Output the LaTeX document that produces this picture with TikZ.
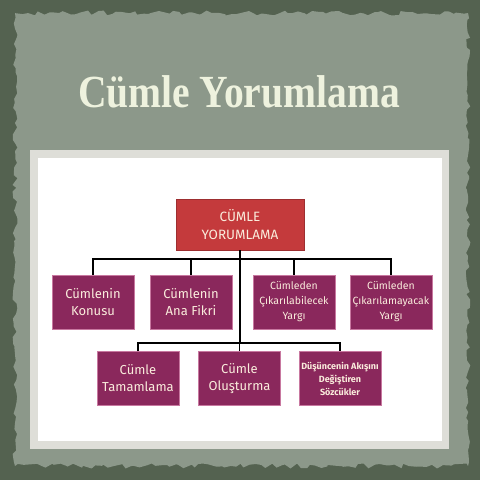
\documentclass[tikz,border=0pt]{standalone}
\usepackage{fontspec}
\setmainfont{Liberation Serif}
\newfontfamily\boxfont{Fira Sans}
\usetikzlibrary{positioning, decorations.pathmorphing}

\definecolor{slateback}{RGB}{84,98,80}
\definecolor{paper}{RGB}{140,152,138}
\definecolor{framegray}{RGB}{222,222,216}
\definecolor{rootred}{RGB}{196,58,60}
\definecolor{plum}{RGB}{138,40,92}
\definecolor{plumedge}{RGB}{200,120,160}
\definecolor{cream}{RGB}{250,236,220}
\definecolor{titlecream}{RGB}{238,242,222}

\begin{document}
\begin{tikzpicture}[x=1pt, y=-1pt,
  topic/.style={draw=plumedge, fill=plum, text=cream, align=center,
    minimum width=82pt, minimum height=54pt, inner sep=1pt,
    font=\boxfont\fontsize{13}{17}\selectfont},
  smalltopic/.style={topic, font=\boxfont\bfseries\fontsize{9}{13}\selectfont},
  rootbox/.style={draw=rootred!80!black, fill=rootred, text=cream, align=center,
    minimum width=128pt, minimum height=51pt,
    font=\boxfont\fontsize{13.5}{18}\selectfont},
  link/.style={line width=1.8pt, black}]

  % background and torn paper
  \fill[slateback] (0,0) rectangle (480,480);
  \pgfmathsetseed{7}
  \fill[paper, decorate, decoration={random steps, segment length=5pt, amplitude=2.5pt}]
    (15,13) rectangle (468,466);
  \fill[framegray] (30,150) rectangle (449,449);
  \fill[white] (38,158) rectangle (442,441);

  % title
  \node[text=titlecream, xscale=0.86, font=\bfseries\fontsize{46}{50}\selectfont] (title) at (239,92) {Cümle Yorumlama};

  % boxes
  \node[rootbox] (root) at (240,224.5) {CÜMLE\\YORUMLAMA};

  \node[topic] (konu) at (93,302) {Cümlenin\\Konusu};
  \node[topic] (fikir) at (191,302) {Cümlenin\\Ana Fikri};
  \node[topic, font=\boxfont\fontsize{10.5}{15}\selectfont] (cikar) at (294,302) {Cümleden\\Çıkarılabilecek\\Yargı};
  \node[topic, font=\boxfont\fontsize{10.5}{15}\selectfont] (cikmaz) at (391,302) {Cümleden\\Çıkarılamayacak\\Yargı};

  \node[topic] (tamam) at (138,378.5) {Cümle\\Tamamlama};
  \node[topic] (olus) at (239.5,378.5) {Cümle\\Oluşturma};
  \node[smalltopic] (akis) at (340,378.5) {Düşüncenin Akışını\\Değiştiren\\Sözcükler};

  % connectors
  \coordinate (bar1) at (root.south |- 0,259);
  \coordinate (bar2) at (root.south |- 0,343);
  \draw[link] (root.south) -- (bar2);
  \draw[link] (konu.north) -- (konu.north |- bar1) -- (cikmaz.north |- bar1) -- (cikmaz.north);
  \draw[link] (fikir.north) -- (fikir.north |- bar1);
  \draw[link] (cikar.north) -- (cikar.north |- bar1);
  \draw[link] (tamam.north) -- (tamam.north |- bar2) -- (akis.north |- bar2) -- (akis.north);
  \draw[link] (olus.north) -- (olus.north |- bar2);
\end{tikzpicture}
\end{document}
